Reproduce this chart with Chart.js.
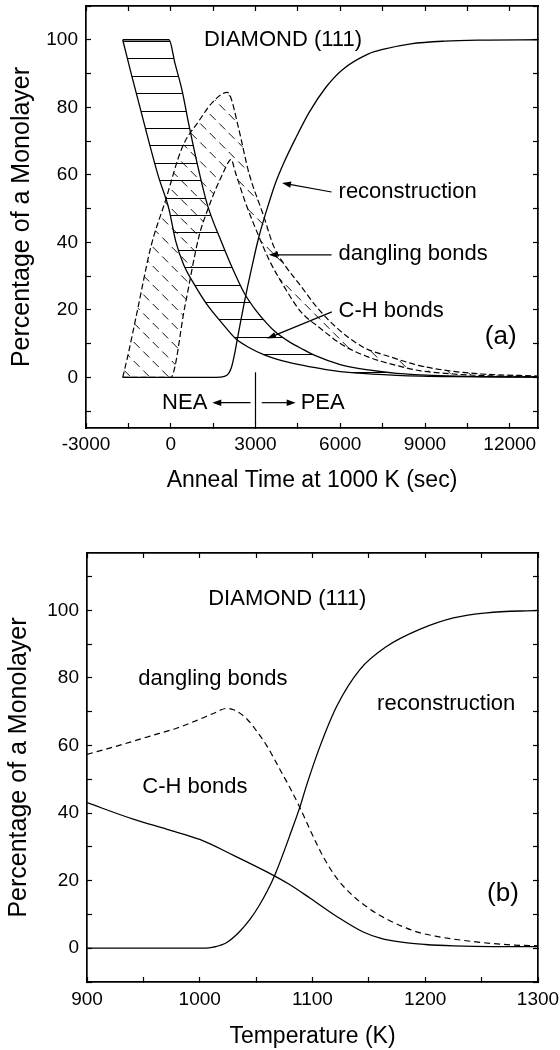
<!DOCTYPE html>
<html><head><meta charset="utf-8">
<script src="https://cdn.jsdelivr.net/npm/chart.js@4.4.1/dist/chart.umd.min.js"></script>
<style>
html,body{margin:0;padding:0;background:#fff;}
canvas{position:absolute;left:0;display:block;}
#ca{top:0;}
#cb{top:520px;}
</style></head><body>
<canvas id="ca" width="560" height="520" style="width:560px;height:520px"></canvas>
<canvas id="cb" width="560" height="530" style="width:560px;height:530px"></canvas>
<script>
// ---------- Panel (a): anneal time (s) vs percentage ----------
const chUpperX = [-1700, -60, 150, 400, 650, 1000, 1300, 1800, 2200, 2600, 3000, 3400, 3700, 4200, 4700, 5100, 6000, 7000, 8000, 9500, 11000, 13000];
const chUpperY = [100, 100, 93, 85, 74.5, 61, 51, 40, 32, 25, 20, 16, 13.5, 10.5, 8.2, 6.5, 3.8, 2.2, 1.2, 0.5, 0.2, 0.1];
const chLowerX = [-1700, -1380, -1080, -770, -440, -60, 170, 450, 880, 1300, 1822, 2293, 2800, 3352, 4000, 4645, 5500, 6500, 8000, 10000, 13000];
const chLowerY = [100, 89.3, 79.7, 69.7, 59.6, 49.7, 40.5, 33.5, 26.9, 21.4, 16, 11.5, 8.7, 6.5, 4.8, 3.6, 2.3, 1.3, 0.6, 0.2, 0.05];
const dbOuterX = [-1700, -1530, -1200, -700, -200, 400, 1000, 1470, 2000, 2100, 2410, 2763, 3293, 3646, 4100, 4528, 5200, 5900, 6800, 7800, 8800, 9800, 11000, 13000];
const dbOuterY = [0, 6, 19, 38.8, 52, 68, 76, 81.4, 84.4, 83.5, 73.5, 60.7, 47.7, 38.8, 32.5, 27.9, 20.5, 14.5, 9, 6, 3.5, 2, 1, 0.4];
const dbInnerX = [-1700, 0, 500, 1000, 1300, 1588, 1850, 2058, 2130, 2293, 2646, 3116, 3500, 3939, 4600, 5300, 6100, 7000, 8000, 8800, 10000, 11500, 13000];
const dbInnerY = [0, 0, 21, 41.8, 49.5, 55.7, 60.5, 64, 64.6, 60.6, 51.7, 41.8, 34.5, 27.9, 19.5, 14.5, 9.5, 6, 3.5, 2, 1, 0.4, 0.2];
const reconAX = [-1700, 1600, 1900, 2050, 2150, 2250, 2350, 2450, 2600, 2880, 3116, 3469, 3705, 4000, 4400, 4900, 5500, 6057, 7000, 7587, 8500, 9705, 11000, 13000];
const reconAY = [0, 0, 0.3, 1.2, 3, 6.5, 11, 15.5, 22, 33, 41.5, 51.5, 57.5, 63.5, 70.5, 78.5, 86, 91, 95.8, 97.3, 98.8, 99.6, 99.9, 100];
const xTicksA = [-3000, -1500, 0, 1500, 3000, 4500, 6000, 7500, 9000, 10500, 12000];
const xLabelsA = [-3000, 0, 3000, 6000, 9000, 12000];
const yTicksA = [-10, 0, 10, 20, 30, 40, 50, 60, 70, 80, 90, 100, 110];
const yLabelsA = [0, 20, 40, 60, 80, 100];

// ---------- Panel (b): temperature (K) vs percentage ----------
const dbBT = [900, 925, 956, 980, 1000, 1012, 1024, 1030, 1042, 1050, 1059.5, 1071, 1080, 1089, 1100, 1110, 1122, 1136, 1150, 1166, 1180, 1195, 1210, 1225, 1250, 1275, 1300];
const dbBV = [57.4, 59.7, 62.8, 65.2, 67.8, 69.5, 71, 70.6, 67.8, 64.5, 59.9, 53, 47.5, 41.5, 33.5, 26.8, 20.5, 15.5, 11.8, 8.6, 6.4, 4.6, 3.5, 2.7, 1.7, 1.0, 0.7];
const chBT = [900, 941, 971, 1000, 1030, 1059.5, 1080, 1098, 1121.6, 1145, 1160, 1180.6, 1200, 1225, 1260, 1300];
const chBV = [43.1, 38.2, 35.2, 32.2, 27.5, 22.6, 18.8, 14.8, 9.4, 4.8, 3.0, 1.7, 1.1, 0.7, 0.5, 0.5];
const reconBT = [900, 1005, 1012, 1024, 1035, 1044.7, 1053, 1060, 1067, 1074, 1080, 1089, 1095, 1106.8, 1121.6, 1142, 1166, 1195, 1225, 1254.5, 1300];
const reconBV = [0, 0, 0.3, 1.7, 4.8, 8.6, 12.8, 17, 22, 28, 33.5, 42, 48.5, 59.9, 71.7, 82.5, 89.4, 94.4, 97.8, 99.3, 100];
const xTicksB = [900, 950, 1000, 1050, 1100, 1150, 1200, 1250, 1300];
const xLabelsB = [900, 1000, 1100, 1200, 1300];
const yTicksB = [-10, 0, 10, 20, 30, 40, 50, 60, 70, 80, 90, 100, 110];
const yLabelsB = [0, 20, 40, 60, 80, 100];

// ---------- annotations (in data units) ----------
const notesA = {
  texts: [
    {t: 'DIAMOND (111)', x: 1175, y: 100, s: 22},
    {t: 'reconstruction', x: 5940, y: 55, s: 22},
    {t: 'dangling bonds', x: 5940, y: 36.6, s: 22},
    {t: 'C-H bonds', x: 5940, y: 19.6, s: 22},
    {t: '(a)', x: 11117, y: 12, s: 26},
    {t: 'NEA', x: -307, y: -7.6, s: 22},
    {t: 'PEA', x: 4598, y: -7.6, s: 22}
  ],
  arrows: [
    {x1: 5692, y1: 54.9, x2: 3938, y2: 57.6},
    {x1: 5692, y1: 36.3, x2: 3469, y2: 36.3},
    {x1: 5703, y1: 19.4, x2: 3409, y2: 11.5},
    {x1: 2823, y1: -7.5, x2: 1468, y2: -7.5},
    {x1: 3222, y1: -7.5, x2: 4422, y2: -7.5}
  ],
  lines: [
    {x1: 3000, y1: 1.5, x2: 3000, y2: -13.8}
  ]
};
const notesB = {
  texts: [
    {t: 'DIAMOND (111)', x: 1007.5, y: 103.3, s: 22},
    {t: 'dangling bonds', x: 945.5, y: 79.6, s: 22},
    {t: 'C-H bonds', x: 949, y: 47.6, s: 22},
    {t: 'reconstruction', x: 1157.3, y: 72.2, s: 22},
    {t: '(b)', x: 1254.8, y: 16, s: 26}
  ],
  arrows: [],
  lines: []
};

const FONT = '"Liberation Sans", Arial, Helvetica, sans-serif';
function pts(xs, ys) { return xs.map((x, i) => ({x: x, y: ys[i]})); }

function notesPlugin(ann) {
  return {
    id: 'notes',
    afterDatasetsDraw(chart) {
      const ctx = chart.ctx, xs = chart.scales.x, ys = chart.scales.y;
      const X = v => xs.getPixelForValue(v), Y = v => ys.getPixelForValue(v);
      ctx.save();
      ctx.fillStyle = '#000'; ctx.strokeStyle = '#000'; ctx.lineWidth = 1.2; ctx.setLineDash([]);
      ann.texts.forEach(a => {
        ctx.font = a.s + 'px ' + FONT; ctx.textAlign = 'left'; ctx.textBaseline = 'middle';
        ctx.fillText(a.t, X(a.x), Y(a.y));
      });
      ann.lines.forEach(l => {
        ctx.beginPath(); ctx.moveTo(X(l.x1), Y(l.y1)); ctx.lineTo(X(l.x2), Y(l.y2)); ctx.stroke();
      });
      ann.arrows.forEach(a => {
        const x1 = X(a.x1), y1 = Y(a.y1), x2 = X(a.x2), y2 = Y(a.y2);
        const ang = Math.atan2(y2 - y1, x2 - x1), L = 9, W = 3.2;
        const c = Math.cos(ang), s = Math.sin(ang);
        ctx.beginPath(); ctx.moveTo(x1, y1); ctx.lineTo(x2 - c * L * 0.7, y2 - s * L * 0.7); ctx.stroke();
        ctx.beginPath(); ctx.moveTo(x2, y2);
        ctx.lineTo(x2 - L * c + W * s, y2 - L * s - W * c);
        ctx.lineTo(x2 - L * c - W * s, y2 - L * s + W * c);
        ctx.closePath(); ctx.fill();
      });
      ctx.restore();
    }
  };
}

function zeroPad(s) { s.paddingTop = 0; s.paddingBottom = 0; s.paddingLeft = 0; s.paddingRight = 0; }

function makeOptions(o) {
  const tickFont = {family: FONT, size: 19};
  const gridOpt = {drawOnChartArea: false, drawTicks: true, tickLength: -5, tickWidth: 1.2, tickColor: '#000', color: '#000'};
  const borderOpt = {display: true, color: '#000', width: 1.7};
  return {
    responsive: false, animation: false, events: [],
    layout: {padding: o.pad},
    plugins: {legend: {display: false}, tooltip: {enabled: false}, title: {display: false}},
    elements: {point: {radius: 0, hoverRadius: 0}},
    scales: {
      x: {
        type: 'linear', position: 'bottom', display: true, min: o.xmin, max: o.xmax, bounds: 'data',
        afterBuildTicks: s => { s.ticks = o.xTicks.map(v => ({value: v})); },
        ticks: {autoSkip: false, maxRotation: 0, minRotation: 0, padding: o.xTickPad, color: '#000', font: tickFont,
                callback: v => o.xLabels.includes(v) ? String(v) : ''},
        grid: gridOpt, border: borderOpt,
        title: {display: true, text: o.xTitle, color: '#000', font: {family: FONT, size: 23}, padding: {top: 0, bottom: o.xTitlePad}},
        afterFit: s => { s.height = o.xh; zeroPad(s); }
      },
      x2: {
        type: 'linear', position: 'top', display: true, min: o.xmin, max: o.xmax, bounds: 'data',
        afterBuildTicks: s => { s.ticks = o.xTicks.map(v => ({value: v})); },
        ticks: {display: false, autoSkip: false},
        grid: gridOpt, border: borderOpt,
        afterFit: s => { s.height = 0; zeroPad(s); }
      },
      y: {
        type: 'linear', position: 'left', display: true, min: o.ymin, max: o.ymax, bounds: 'data',
        afterBuildTicks: s => { s.ticks = o.yTicks.map(v => ({value: v})); },
        ticks: {autoSkip: false, padding: 13, color: '#000', font: tickFont,
                callback: v => o.yLabels.includes(v) ? String(v) : ''},
        grid: gridOpt, border: borderOpt,
        title: {display: true, text: 'Percentage of a Monolayer', color: '#000', font: {family: FONT, size: 25}, padding: {top: o.yTitlePad, bottom: 0}},
        afterFit: s => { s.width = o.yw; zeroPad(s); }
      },
      y2: {
        type: 'linear', position: 'right', display: true, min: o.ymin, max: o.ymax, bounds: 'data',
        afterBuildTicks: s => { s.ticks = o.yTicks.map(v => ({value: v})); },
        ticks: {display: false, autoSkip: false},
        grid: gridOpt, border: borderOpt,
        afterFit: s => { s.width = 0; zeroPad(s); }
      }
    }
  };
}

// hatch patterns (style only)
const ctxA = document.getElementById('ca').getContext('2d');
function horizontalHatch() {
  const c = document.createElement('canvas'); c.width = 8; c.height = 87;
  const g = c.getContext('2d'); g.fillStyle = '#000';
  [0, 17, 35, 52, 70].forEach(yy => g.fillRect(0, yy, 8, 1));
  const p = ctxA.createPattern(c, 'repeat');
  p.setTransform(new DOMMatrix([1, 0, 0, 1, 0, 41]));
  return p;
}
function diagonalHatch() {
  const c = document.createElement('canvas'); c.width = 19; c.height = 19;
  const g = c.getContext('2d'); g.strokeStyle = '#111'; g.lineWidth = 1;
  g.setLineDash([8.4, 5.03]);
  [-19, 0, 19].forEach(dx => { g.beginPath(); g.moveTo(-19 + dx, -19); g.lineTo(38 + dx, 38); g.stroke(); });
  const p = ctxA.createPattern(c, 'repeat');
  p.setTransform(new DOMMatrix([1, 0, 0, 1, 0.7, 0]));
  return p;
}

const solid = {borderColor: '#000', borderWidth: 1.3, pointRadius: 0, cubicInterpolationMode: 'monotone'};
const dashedA = {borderColor: '#000', borderWidth: 1.2, borderDash: [6, 3], pointRadius: 0, cubicInterpolationMode: 'monotone'};
const dashedB = {borderColor: '#000', borderWidth: 1.2, borderDash: [6, 4], pointRadius: 0, cubicInterpolationMode: 'monotone'};

new Chart(ctxA, {
  type: 'line',
  data: {datasets: [
    Object.assign({label: 'C-H bonds (upper)', data: pts(chUpperX, chUpperY), fill: 1, backgroundColor: horizontalHatch()}, solid),
    Object.assign({label: 'C-H bonds (lower)', data: pts(chLowerX, chLowerY), fill: false}, solid),
    Object.assign({label: 'dangling bonds (outer)', data: pts(dbOuterX, dbOuterY), fill: 3, backgroundColor: diagonalHatch()}, dashedA),
    Object.assign({label: 'dangling bonds (inner)', data: pts(dbInnerX, dbInnerY), fill: false}, dashedA),
    Object.assign({label: 'reconstruction', data: pts(reconAX, reconAY), fill: false}, solid)
  ]},
  options: makeOptions({
    pad: {top: 6, right: 22, left: 0, bottom: 0},
    xmin: -3000, xmax: 13000, xTicks: xTicksA, xLabels: xLabelsA,
    ymin: -15, ymax: 110, yTicks: yTicksA, yLabels: yLabelsA,
    xTitle: 'Anneal Time at 1000 K (sec)', xh: 92, yw: 86, xTickPad: 10.6, xTitlePad: 26, yTitlePad: 7
  }),
  plugins: [notesPlugin(notesA)]
});

new Chart(document.getElementById('cb'), {
  type: 'line',
  data: {datasets: [
    Object.assign({label: 'C-H bonds', data: pts(chBT, chBV), fill: false}, solid),
    Object.assign({label: 'dangling bonds', data: pts(dbBT, dbBV), fill: false}, dashedB),
    Object.assign({label: 'reconstruction', data: pts(reconBT, reconBV), fill: false}, solid)
  ]},
  options: makeOptions({
    pad: {top: 33, right: 22, left: 0, bottom: 0},
    xmin: 900, xmax: 1300, xTicks: xTicksB, xLabels: xLabelsB,
    ymin: -10, ymax: 117, yTicks: yTicksB, yLabels: yLabelsB,
    xTitle: 'Temperature (K)', xh: 68, yw: 87, xTickPad: 11.6, xTitlePad: 0, yTitlePad: 4
  }),
  plugins: [notesPlugin(notesB)]
});
</script>
</body></html>
